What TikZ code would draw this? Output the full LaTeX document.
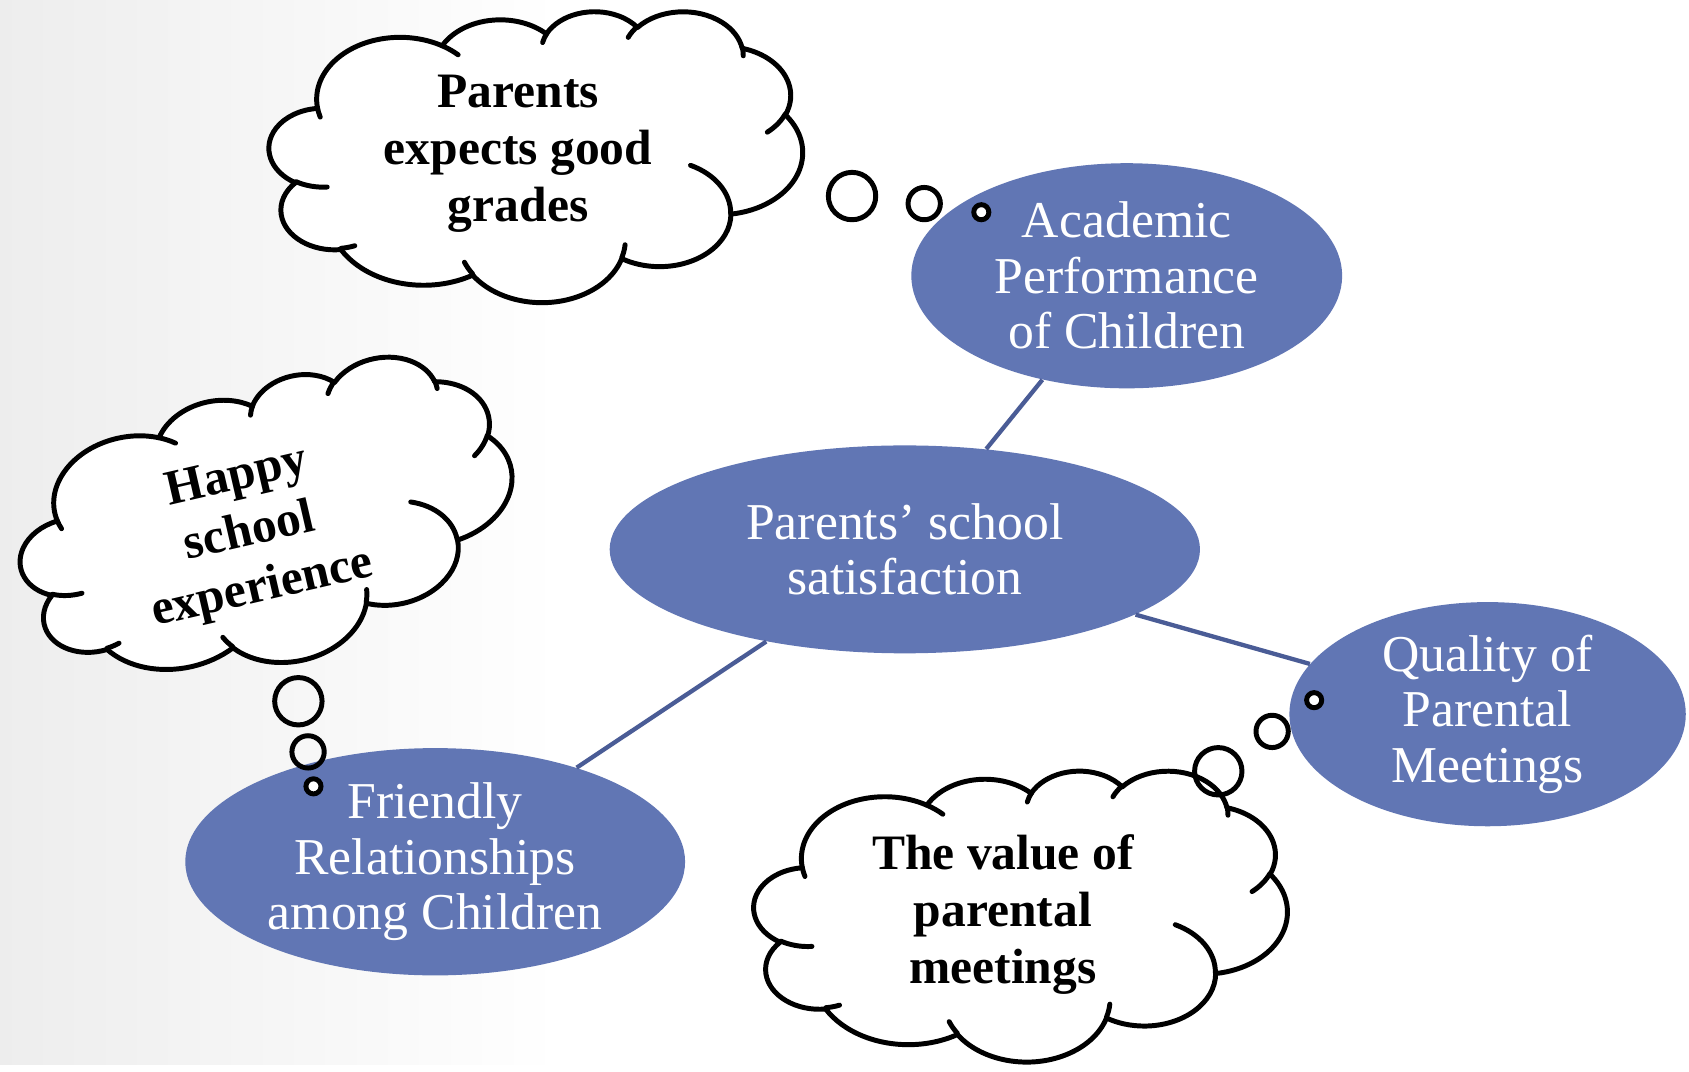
\documentclass[tikz,border=0pt]{standalone}
\usepackage{fontspec}
\newfontfamily\cloudfont{Liberation Serif}
\newfontfamily\ovalfont{Liberation Serif}
\usetikzlibrary{shapes.geometric, positioning}

\definecolor{ovalblue}{RGB}{97,118,180}
\definecolor{linkblue}{RGB}{74,92,150}

% parametric angle of an ellipse point seen under a visual angle
\pgfmathdeclarefunction{parang}{3}{\pgfmathparse{atan2(#1*sin(#3),#2*cos(#3))}}

\tikzset{
  cloudline/.style = {line width=2.3pt, line join=round, line cap=round},
  pptarc/.style    = {start angle={parang(\rX,\rY,\sA)},
                      delta angle={mod(parang(\rX,\rY,\sA+\sW)-parang(\rX,\rY,\sA)+720,360)},
                      x radius=\rX, y radius=\rY}
}

% thought cloud: #1,#2 top left corner, #3 width, #4 height
\newcommand{\thoughtcloud}[4]{%
  \begin{scope}[shift={(#1,#2)}, xscale=#3/432, yscale=#4/432]
    \draw[cloudline, fill=white] (39.00,143.70)
      foreach \rX/\rY/\sA/\sW in {67.53/91.90/-190.4875/123.7805,
        53.33/72.67/-144.1024/89.9452, 43.65/59.45/-145.8079/99.7230,
        48.57/65.95/-130.9861/117.2417, 53.33/72.73/-78.7089/109.0269,
        67.75/92.20/-46.2673/130.2690, 57.85/78.67/0.6250/114.0333,
        67.52/92.15/22.4516/115.1726, 77.20/105.43/66.2426/75.7110,
        43.60/59.18/-274.9421/146.7356, 43.45/59.45/-246.8285/152.5189}
      {arc[pptarc]} -- cycle;
    % inner strokes
    \foreach \pX/\pY/\rX/\rY/\sA/\sW in {46.93/261.77/43.45/59.45/86.7420/26.4295,
        69.28/348.99/43.60/59.18/73.6105/11.4475,
        164.78/390.90/67.52/92.15/137.6241/14.0811,
        288.27/347.51/67.52/92.15/6.4533/15.9984,
        341.29/229.54/57.85/78.67/-70.2924/70.9174,
        417.98/153.54/53.33/72.73/30.3180/27.7515,
        383.24/54.26/48.57/65.95/-13.7443/14.8589,
        290.78/39.52/48.57/65.95/-149.1815/18.1954,
        221.41/47.20/43.65/59.45/-163.4943/17.6864,
        140.00/51.92/67.53/91.90/-66.7070/12.3194,
        41.27/157.89/67.53/91.90/157.6544/11.8582}
      \draw[cloudline] (\pX,\pY) arc[pptarc];
  \end{scope}}

\begin{document}
\begin{tikzpicture}[
  x=0.5pt, y=-0.5pt,
  oval/.style   = {ellipse, fill=ovalblue, text=white, align=center, inner sep=0pt,
                   font=\ovalfont\fontsize{24}{25.75}\selectfont},
  link/.style   = {draw=linkblue, line width=2pt},
  bubble/.style = {circle, draw, line width=2.3pt, inner sep=0pt},
  dot/.style    = {bubble, fill=white, minimum size=7pt},
  thought/.style = {align=center, font=\cloudfont\bfseries\fontsize{23}{26.5}\selectfont}
]

% background
\fill[white] (0,0) rectangle (1568,988);
\shade[left color=black!7, right color=white] (0,0) rectangle (520,988);

%--------------------------------------------------
% ovals
%--------------------------------------------------
\node[oval, minimum width=274pt, minimum height=96.5pt] (satisfaction) at (840,510)
  {Parents’ school\\satisfaction};
\node[oval, minimum width=200pt, minimum height=104.5pt] (academic) at (1046,256)
  {Academic\\Performance\\of Children};
\node[oval, minimum width=184pt, minimum height=92pt] (quality) at (1381,663)
  {Quality of\\Parental\\Meetings};
\node[oval, minimum width=232pt, minimum height=105.5pt] (friendly) at (404,800)
  {Friendly\\Relationships\\among Children};

% links
\draw[link] (satisfaction) -- (academic);
\draw[link] (satisfaction) -- (quality);
\draw[link] (satisfaction) -- (friendly);

%--------------------------------------------------
% clouds
%--------------------------------------------------
\thoughtcloud{250}{10}{495}{270}
\begin{scope}[rotate around={12:(248,486)}]
  \thoughtcloud{16}{356}{464}{260}
\end{scope}
\thoughtcloud{700}{715}{495}{270}

\node[thought] (grades) at (481,143) {Parents\\expects good\\grades};
\node[thought, rotate=13] (happy) at (232,496) {Happy\\school\\experience};
\node[thought] (meetings) at (931,849) {The value of\\parental\\meetings};

%--------------------------------------------------
% thought bubbles
%--------------------------------------------------
\node[bubble, minimum size=22pt] (gradesbub1) at (791,182) {};
\node[bubble, minimum size=15pt] (gradesbub2) at (858,189) {};
\node[dot] (gradesbub3) at (911,197) {};

\node[bubble, minimum size=22pt] (happybub1) at (277,651) {};
\node[bubble, minimum size=15pt] (happybub2) at (286,698) {};
\node[dot] (happybub3) at (291,730) {};

\node[bubble, minimum size=22pt] (meetbub1) at (1131,716) {};
\node[bubble, minimum size=15pt] (meetbub2) at (1181,679) {};
\node[dot] (meetbub3) at (1220,650) {};

\end{tikzpicture}
\end{document}
